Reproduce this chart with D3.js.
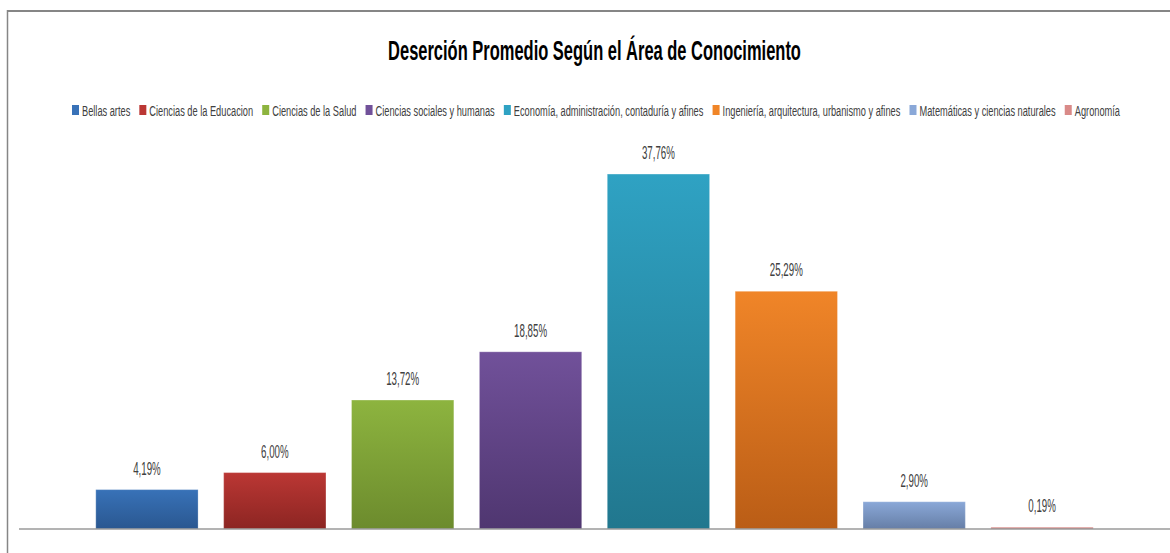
<!DOCTYPE html>
<html>
<head>
<meta charset="utf-8">
<script src="https://cdn.jsdelivr.net/npm/d3@7"></script>
<style>
  html, body { margin: 0; padding: 0; background: #ffffff; }
  svg { display: block; }
  text { font-family: "Liberation Sans Narrow", "Liberation Sans", Arial, sans-serif; }
</style>
</head>
<body>
<svg id="chart" width="1170" height="553"></svg>
<script>
// ---- data ----
const categories = [
  "Bellas artes",
  "Ciencias de la Educacion",
  "Ciencias de la Salud",
  "Ciencias sociales y humanas",
  "Economía, administración, contaduría y afines",
  "Ingeniería, arquitectura, urbanismo y afines",
  "Matemáticas y ciencias naturales",
  "Agronomía"
];
const values = [4.19, 6.00, 13.72, 18.85, 37.76, 25.29, 2.90, 0.19];
const colorTop    = ["#3872B8", "#BB3734", "#8DB43F", "#71519A", "#2FA2C3", "#F08528", "#8AA8D8", "#D98A88"];
const colorBottom = ["#2A5790", "#8C2522", "#6C8B2D", "#4F3670", "#21778E", "#BA5D16", "#667EA6", "#C06A68"];
const yTicks = [0, 10, 20, 30, 40];
const title = "Deserción Promedio Según el Área de Conocimiento";

// ---- layout ----
const W = 1170, H = 553;
const baseY = 529;
const svg = d3.select("#chart");

const defs = svg.append("defs");
categories.forEach((c, i) => {
  const g = defs.append("linearGradient")
    .attr("id", "grad" + i).attr("x1", 0).attr("y1", 0).attr("x2", 0).attr("y2", 1);
  g.append("stop").attr("offset", "0%").attr("stop-color", colorTop[i]);
  g.append("stop").attr("offset", "100%").attr("stop-color", colorBottom[i]);
});

// border (chart frame)
svg.append("line").attr("x1", 7).attr("y1", 11).attr("x2", W).attr("y2", 11)
  .attr("stroke", "#868686").attr("stroke-width", 2);
svg.append("line").attr("x1", 7.5).attr("y1", 10).attr("x2", 7.5).attr("y2", H)
  .attr("stroke", "#868686").attr("stroke-width", 1.5);

const x = d3.scaleBand()
  .domain(categories)
  .range([83, 1106])
  .paddingInner(0.2)
  .paddingOuter(0.1);

const y = d3.scaleLinear()
  .domain([0, d3.max(yTicks)])
  .range([baseY, baseY - 376]);

// bars
svg.append("g").selectAll("rect")
  .data(values)
  .join("rect")
  .attr("x", (d, i) => x(categories[i]))
  .attr("width", x.bandwidth())
  .attr("y", d => y(d))
  .attr("height", d => Math.max(1.5, baseY - y(d)))
  .attr("fill", (d, i) => `url(#grad${i})`)
  .attr("stroke", "rgba(255,255,255,0.25)")
  .attr("stroke-width", 1);

// category axis line
const axisG = svg.append("g").attr("transform", `translate(0,${baseY})`);
axisG.call(d3.axisBottom(x).tickSize(0).tickFormat(""));
axisG.select(".domain").remove();
axisG.append("line").attr("x1", 19).attr("x2", W).attr("y1", 0).attr("y2", 0)
  .attr("stroke", "#9a9a9a").attr("stroke-width", 1.5);

// title
const tG = svg.append("g");
const tText = tG.append("text")
  .attr("text-anchor", "middle")
  .attr("font-size", 27)
  .attr("font-weight", "bold")
  .attr("fill", "#000")
  .text(title);
const tw = tText.node().getComputedTextLength();
const tk = 413 / tw;
tG.attr("transform", `translate(594.5,60) scale(${tk},1)`);

// legend
const legG = svg.append("g");
const sq = 7, gapSq = 3, gapItem = 9;
const temps = categories.map((c, i) => {
  const t = legG.append("text").attr("font-size", 15.5).attr("fill", "#404040").text(c);
  return { t, w: t.node().getComputedTextLength() };
});
const totalText = d3.sum(temps, d => d.w);
const legendWidth = 1048;
const lk = (legendWidth - categories.length * (sq + gapSq) - (categories.length - 1) * gapItem) / totalText;
let lx = 72;
const legY = 116;
temps.forEach((d, i) => {
  legG.append("rect").attr("x", lx).attr("y", legY - 11).attr("width", sq).attr("height", 10)
    .attr("fill", colorTop[i]);
  d.t.attr("transform", `translate(${lx + sq + gapSq},${legY}) scale(${lk},1)`);
  lx += sq + gapSq + d.w * lk + gapItem;
});

// value labels
const fmt = v => v.toFixed(2).replace(".", ",") + "%";
const lab = svg.append("g").selectAll("text")
  .data(values)
  .join("text")
  .attr("text-anchor", "middle")
  .attr("font-size", 18)
  .attr("fill", "#404040")
  .text(d => fmt(d));
const maxIdx = values.indexOf(d3.max(values));
const vw = lab.nodes()[maxIdx].getComputedTextLength();
const vk = 33 / vw;
lab.attr("transform", (d, i) => `translate(${x(categories[i]) + x.bandwidth() / 2},${y(d) - 15}) scale(${vk},1)`);
</script>
</body>
</html>
